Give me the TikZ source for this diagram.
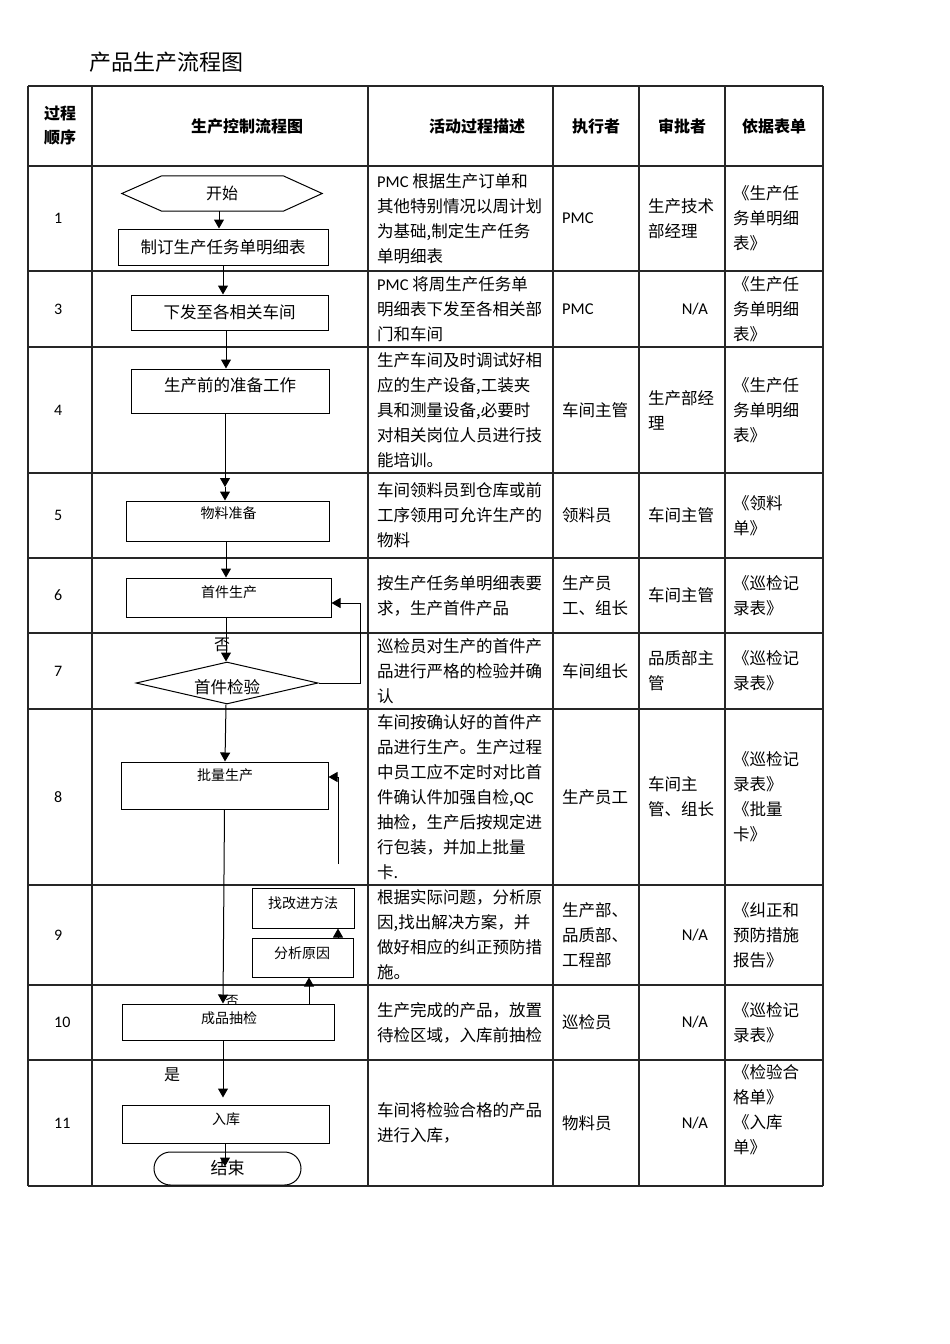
\documentclass[tikz,border=0pt]{standalone}
\usepackage{fontspec}
\setmainfont{Carlito}
\newfontfamily\cjk{Noto Sans CJK SC}
\usetikzlibrary{shapes.geometric,shapes.misc,arrows.meta}
\newcommand\lat[1]{{\rmfamily #1}}
\begin{document}
\begin{tikzpicture}[x=1pt,y=-1pt,
  tline/.style={line width=1.2pt, black!85},
  box/.style={draw, line width=1pt, fill=white, inner sep=0pt, rectangle},
  ftext/.style={font=\cjk\fontsize{16.5}{20}\selectfont, inner sep=0pt},
  stext/.style={font=\cjk\fontsize{14}{18}\selectfont, inner sep=0pt},
  cell/.style={anchor=west, align=left, inner sep=0pt, font=\cjk\fontsize{16.5}{25}\selectfont},
  num/.style={anchor=west, inner sep=0pt, font=\rmfamily\fontsize{16}{20}\selectfont},
  na/.style={anchor=east, inner sep=0pt, font=\rmfamily\fontsize{16.5}{20}\selectfont},
  hd/.style={font=\cjk\bfseries\fontsize{16}{24}\selectfont, inner sep=0pt, align=center},
  arr/.style={-{Triangle[width=10pt,length=9pt]}, line width=1pt},
  fline/.style={line width=1pt}
]
\useasboundingbox (0,0) rectangle (950,1344);

% title
\node[anchor=west, inner sep=0pt, font=\cjk\fontsize{22}{26}\selectfont] (title) at (89,62) {产品生产流程图};

% table grid
\foreach \x in {28,92,368,553,639,725,823} \draw[tline] (\x,86) -- (\x,1186);
\foreach \y in {86,166,271,347,473,558,633,709,885,985,1060,1186} \draw[tline] (28,\y) -- (823,\y);

% headers
\node[hd] (h1) at (60,126) {过程\\顺序};
\node[hd] (h2) at (247,126) {生产控制流程图};
\node[hd] (h3) at (477,126) {活动过程描述};
\node[hd] (h4) at (596,126) {执行者};
\node[hd] (h5) at (682,126) {审批者};
\node[hd] (h6) at (774,126) {依据表单};

% row numbers
\node[num] (n1) at (54,218.5) {1};
\node[num] (n3) at (54,309) {3};
\node[num] (n4) at (54,410) {4};
\node[num] (n5) at (54,515.5) {5};
\node[num] (n6) at (54,595.5) {6};
\node[num] (n7) at (54,671) {7};
\node[num] (n8) at (54,797) {8};
\node[num] (n9) at (54,935) {9};
\node[num] (n10) at (54,1022.5) {10};
\node[num] (n11) at (54,1123) {11};

% descriptions
\node[cell] (d1) at (377,218.5) {\lat{PMC} 根据生产订单和\\其他特别情况以周计划\\为基础,制定生产任务\\单明细表};
\node[cell] (d3) at (377,309) {\lat{PMC} 将周生产任务单\\明细表下发至各相关部\\门和车间};
\node[cell] (d4) at (377,410) {生产车间及时调试好相\\应的生产设备,工装夹\\具和测量设备,必要时\\对相关岗位人员进行技\\能培训。};
\node[cell] (d5) at (377,515.5) {车间领料员到仓库或前\\工序领用可允许生产的\\物料};
\node[cell] (d6) at (377,595.5) {按生产任务单明细表要\\求，生产首件产品};
\node[cell] (d7) at (377,671) {巡检员对生产的首件产\\品进行严格的检验并确\\认};
\node[cell] (d8) at (377,797) {车间按确认好的首件产\\品进行生产。生产过程\\中员工应不定时对比首\\件确认件加强自检,\lat{QC}\\抽检，生产后按规定进\\行包装，并加上批量\\卡.};
\node[cell] (d9) at (377,935) {根据实际问题，分析原\\因,找出解决方案，并\\做好相应的纠正预防措\\施。};
\node[cell] (d10) at (377,1022.5) {生产完成的产品，放置\\待检区域，入库前抽检};
\node[cell] (d11) at (377,1123) {车间将检验合格的产品\\进行入库，};

% executors
\node[cell] (e1) at (562,218.5) {\lat{PMC}};
\node[cell] (e3) at (562,309) {\lat{PMC}};
\node[cell] (e4) at (562,410) {车间主管};
\node[cell] (e5) at (562,515.5) {领料员};
\node[cell] (e6) at (562,595.5) {生产员\\工、组长};
\node[cell] (e7) at (562,671) {车间组长};
\node[cell] (e8) at (562,797) {生产员工};
\node[cell] (e9) at (562,935) {生产部、\\品质部、\\工程部};
\node[cell] (e10) at (562,1022.5) {巡检员};
\node[cell] (e11) at (562,1123) {物料员};

% approvers
\node[cell] (a1) at (648,218.5) {生产技术\\部经理};
\node[na] (a3) at (708,309) {N/A};
\node[cell] (a4) at (648,410) {生产部经\\理};
\node[cell] (a5) at (648,515.5) {车间主管};
\node[cell] (a6) at (648,595.5) {车间主管};
\node[cell] (a7) at (648,671) {品质部主\\管};
\node[cell] (a8) at (648,797) {车间主\\管、组长};
\node[na] (a9) at (708,935) {N/A};
\node[na] (a10) at (708,1022.5) {N/A};
\node[na] (a11) at (708,1123) {N/A};

% forms
\node[cell] (f1) at (733,218.5) {《生产任\\务单明细\\表》};
\node[cell] (f3) at (733,309) {《生产任\\务单明细\\表》};
\node[cell] (f4) at (733,410) {《生产任\\务单明细\\表》};
\node[cell] (f5) at (733,515.5) {《领料\\单》};
\node[cell] (f6) at (733,595.5) {《巡检记\\录表》};
\node[cell] (f7) at (733,671) {《巡检记\\录表》};
\node[cell] (f8) at (733,797) {《巡检记\\录表》\\《批量\\卡》};
\node[cell] (f9) at (733,935) {《纠正和\\预防措施\\报告》};
\node[cell] (f10) at (733,1022.5) {《巡检记\\录表》};
\node[cell] (f11) at (733,1110) {《检验合\\格单》\\《入库\\单》};

% ---------- flowchart ----------
% start hexagon
\node[inner sep=0pt, minimum width=200, minimum height=35, font=\cjk\fontsize{16}{20}\selectfont] (start) at (222,193.5) {开始};
\draw[fline] (start.west) -- ([xshift=40]start.north west) -- ([xshift=-39]start.north east) -- (start.east) -- ([xshift=-39]start.south east) -- ([xshift=40]start.south west) -- cycle;

\node[box, minimum width=210, minimum height=36, ftext] (make) at (223,247) {制订生产任务单明细表};
\node[box, minimum width=197, minimum height=35, ftext] (issue) at (229.5,312.5) {下发至各相关车间};
\node[box, minimum width=198, minimum height=44] (prep) at (230,391) {};
\node[ftext] (tprep) at (230,385) {生产前的准备工作};
\node[box, minimum width=203, minimum height=40] (mat) at (227.5,521) {};
\node[stext] (tmat) at (228.5,513) {物料准备};
\node[box, minimum width=205, minimum height=39] (first) at (228.5,597.5) {};
\node[stext] (tfirst) at (229,592) {首件生产};
\node[draw, diamond, fill=white, line width=1pt, inner sep=0pt, minimum width=182, minimum height=42] (chk) at (227,683) {};
\node[ftext] (tchk) at (227,687) {首件检验};
\node[box, minimum width=207, minimum height=47] (batch) at (224.5,785.5) {};
\node[stext] (tbatch) at (225,775) {批量生产};
\node[box, minimum width=102, minimum height=40] (find) at (303,908) {};
\node[stext] (tfind) at (303,903) {找改进方法};
\node[box, minimum width=101, minimum height=39] (cause) at (302.5,957.5) {};
\node[stext] (tcause) at (302,953) {分析原因};
\node[font=\cjk\fontsize{13}{16}\selectfont, inner sep=0pt] (no2) at (232,1001) {否};
\node[box, minimum width=212, minimum height=36] (qc) at (228,1022) {};
\node[stext] (tqc) at (229,1018) {成品抽检};
\node[box, minimum width=207, minimum height=38] (store) at (225.5,1124) {};
\node[stext] (tstore) at (226,1119) {入库};
\node[draw, rounded rectangle, fill=white, line width=1pt, inner sep=0pt, minimum width=147, minimum height=33, font=\cjk\fontsize{17}{20}\selectfont] (finish) at (227.5,1168.5) {结束};

% labels
\node[font=\cjk\fontsize{16}{20}\selectfont, inner sep=0pt] (no1) at (222,645) {否};
\node[font=\cjk\fontsize{16}{20}\selectfont, inner sep=0pt] (yes) at (172,1075) {是};

% connectors
\draw[arr] ([xshift=-3]start.south) -- ([xshift=-4]make.north);
\draw[arr] (make.south) -- ([xshift=-6.5]issue.north);
\draw[arr] ([xshift=-3.5]issue.south) -- ([xshift=-4]prep.north);
\coordinate (mid) at (225,487);
\draw[arr] ([xshift=-5]prep.south) -- (mid);
\draw[arr] (mid) -- ([xshift=-2.5]mat.north);
\draw[arr] ([xshift=-1.5]mat.south) -- ([xshift=-2.5]first.north);
\draw[arr] ([xshift=-2.5]first.south) -- ([xshift=-1]chk.north);
\draw[arr] (chk.east) -- ++(42,0) |- ([yshift=-5.5]first.east);
\draw[arr] ([xshift=-1]chk.south) -- ([xshift=0.5]batch.north);
\coordinate (fb) at (338,864);
\draw[arr] (fb) |- ([yshift=8.5]batch.east);
\draw[arr] (batch.south) -- ([xshift=-5]qc.north);
\draw[arr] ([xshift=81]qc.north) -- ([xshift=6.5]cause.south);
\draw[arr] ([xshift=35.5]cause.north) -- ([xshift=35]find.south);
\draw[arr] ([xshift=-5]qc.south) -- ([xshift=-2.5,yshift=7]store.north);
\draw[arr] ([xshift=-0.5]store.south) -- ([xshift=-2.5,yshift=-15]finish.north);
\end{tikzpicture}
\end{document}
